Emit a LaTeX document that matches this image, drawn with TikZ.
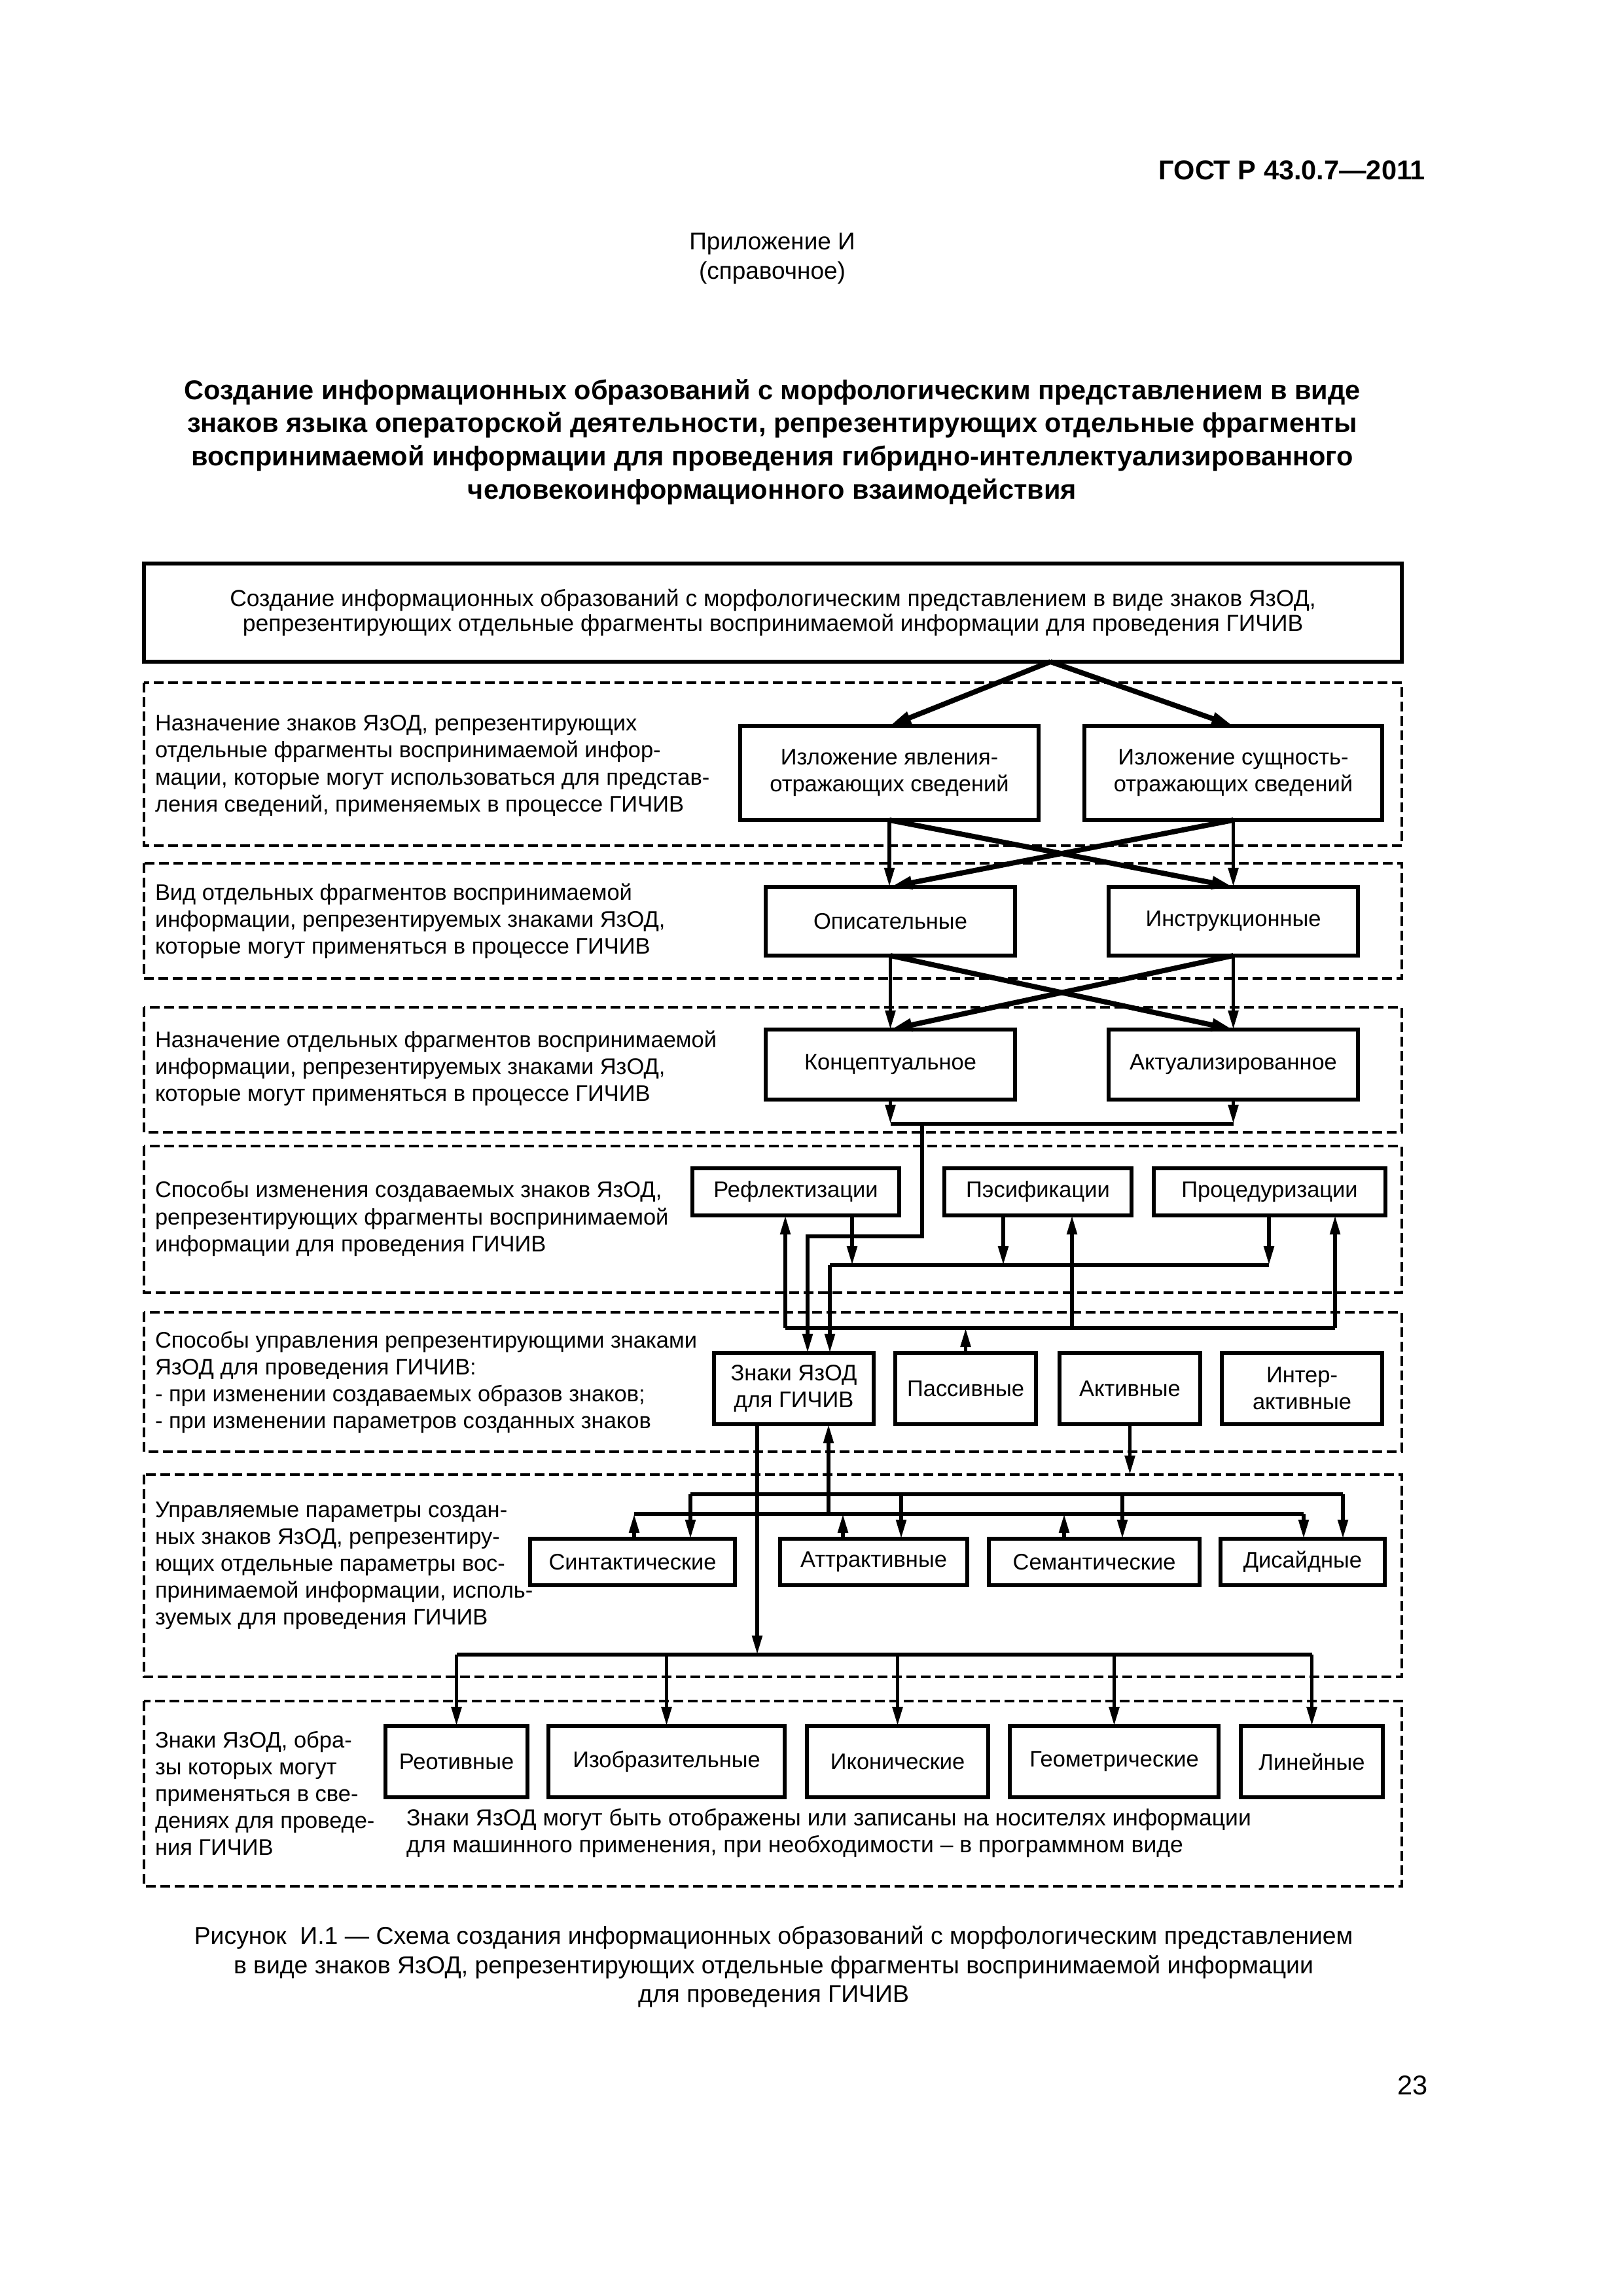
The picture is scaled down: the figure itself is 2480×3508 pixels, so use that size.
\documentclass[tikz,border=0pt]{standalone}
\usepackage{fontspec}
\setmainfont{Liberation Sans}
\usetikzlibrary{arrows.meta}
\newcommand\pxu{0.0846774mm}
\newcommand\bx[6]{\node[box, minimum width={(#4-#2)*\pxu}, minimum height={(#5-#3)*\pxu}] (#1) at ({(#2+#4)/2},{(#3+#5)/2}) {#6};}
\begin{document}
\begin{tikzpicture}[x=0.0846774mm, y=-0.0846774mm,
  every node/.style={inner sep=0pt, outer sep=0pt},
  dfont/.style={font=\fontsize{8.3}{9.9}\selectfont},
  box/.style={draw, line width=1.45pt, align=center, dfont},
  band/.style={draw, line width=0.9pt, dash pattern=on 3.6pt off 1.7pt},
  ln/.style={line width=1.3pt},
  arr/.style={ln, -{Triangle[length=7pt,width=3.6pt]}},
  diag/.style={line width=1.9pt, -{Triangle[length=8pt,width=4.4pt]}},
  bus/.style={line width=1.4pt},
  lbl/.style={dfont, align=left, anchor=west},
]
\useasboundingbox (0,0) rectangle (2480,3508);
\fill[white] (0,0) rectangle (2480,3508);

% page header
\node[anchor=east, font=\fontsize{10}{12}\selectfont\bfseries] (hdr) at (2178,260) {ГОСТ Р 43.0.7—2011};
\node[align=center, font=\fontsize{8.9}{10.8}\selectfont] (app) at (1180,395) {Приложение И\\(справочное)};
\node[align=center, font=\fontsize{10}{12.2}\selectfont\bfseries] (title) at (1180,675)
 {Создание информационных образований с морфологическим представлением в виде\\
  знаков языка операторской деятельности, репрезентирующих отдельные фрагменты\\
  воспринимаемой информации для проведения гибридно-интеллектуализированного\\
  человекоинформационного взаимодействия};

% bands
\draw[band] (220,1043) rectangle (2142,1292);
\draw[band] (220,1319) rectangle (2142,1495);
\draw[band] (220,1539) rectangle (2142,1730);
\draw[band] (220,1751) rectangle (2142,1975);
\draw[band] (220,2005) rectangle (2142,2218);
\draw[band] (220,2253) rectangle (2142,2562);
\draw[band] (220,2599) rectangle (2142,2882);

% top box
\node[draw, line width=1.6pt, align=center, font=\fontsize{8.55}{9.3}\selectfont,
  minimum width={1922*\pxu}, minimum height={150*\pxu}] (top) at (1181,936)
 {Создание информационных образований с морфологическим представлением в виде знаков ЯзОД,\\
  репрезентирующих отдельные фрагменты воспринимаемой информации для проведения ГИЧИВ};

% boxes
\bx{b1}{1131}{1109}{1587}{1253}{Изложение явления-\\отражающих сведений}
\bx{b2}{1657}{1109}{2112}{1253}{Изложение сущность-\\отражающих сведений}
\bx{opis}{1170}{1355}{1551}{1460}{Описательные}
\bx{instr}{1694}{1355}{2075}{1460}{Инструкционные}
\bx{konc}{1170}{1573}{1551}{1680}{Концептуальное}
\bx{akt}{1694}{1573}{2075}{1680}{Актуализированное}
\bx{refl}{1058}{1785}{1374}{1857}{Рефлектизации}
\bx{pes}{1443}{1785}{1729}{1857}{Пэсификации}
\bx{proc}{1763}{1785}{2117}{1857}{Процедуризации}
\bx{znaki}{1091}{2067}{1335}{2176}{Знаки ЯзОД\\для ГИЧИВ}
\bx{pass}{1368}{2067}{1583}{2176}{Пассивные}
\bx{aktv}{1619}{2067}{1834}{2176}{Активные}
\bx{inter}{1867}{2067}{2112}{2176}{Интер-\\активные}
\bx{sint}{810}{2351}{1123}{2422}{Синтактические}
\bx{attr}{1192}{2351}{1478}{2422}{Аттрактивные}
\bx{sem}{1511}{2351}{1833}{2422}{Семантические}
\bx{dis}{1865}{2351}{2116}{2422}{Дисайдные}
\bx{reo}{589}{2637}{806}{2746}{Реотивные}
\bx{izo}{838}{2637}{1199}{2746}{Изобразительные}
\bx{ikon}{1233}{2637}{1510}{2746}{Иконические}
\bx{geom}{1543}{2637}{1862}{2746}{Геометрические}
\bx{lin}{1896}{2637}{2113}{2746}{Линейные}

% left labels
\node[lbl] (t1) at (237,1170) {Назначение знаков ЯзОД, репрезентирующих\\отдельные фрагменты воспринимаемой инфор-\\мации, которые могут использоваться для представ-\\ления сведений, применяемых в процессе ГИЧИВ};
\node[lbl] (t2) at (237,1407) {Вид отдельных фрагментов воспринимаемой\\информации, репрезентируемых знаками ЯзОД,\\которые могут применяться в процессе ГИЧИВ};
\node[lbl] (t3) at (237,1632) {Назначение отдельных фрагментов воспринимаемой\\информации, репрезентируемых знаками ЯзОД,\\которые могут применяться в процессе ГИЧИВ};
\node[lbl] (t4) at (237,1862) {Способы изменения создаваемых знаков ЯзОД,\\репрезентирующих фрагменты воспринимаемой\\информации для проведения ГИЧИВ};
\node[lbl] (t5) at (237,2112) {Способы управления репрезентирующими знаками\\ЯзОД для проведения ГИЧИВ:\\- при изменении создаваемых образов знаков;\\- при изменении параметров созданных знаков};
\node[lbl] (t6) at (237,2392) {Управляемые параметры создан-\\ных знаков ЯзОД, репрезентиру-\\ющих отдельные параметры вос-\\принимаемой информации, исполь-\\зуемых для проведения ГИЧИВ};
\node[lbl] (t7) at (237,2740) {Знаки ЯзОД, обра-\\зы которых могут\\применяться в све-\\дениях для проведе-\\ния ГИЧИВ};
\node[lbl, font=\fontsize{8.55}{9.9}\selectfont] (t8) at (621,2801) {Знаки ЯзОД могут быть отображены или записаны на носителях информации\\для машинного применения, при необходимости – в программном виде};

% connectors: top -> band 1
\coordinate (ts) at (1605,1011);
\draw[diag] (ts) -- (b1.north);
\draw[diag] (ts) -- (b2.north);
% band 1 -> band 2
\draw[arr] (b1.south) -- (b1.south |- opis.north);
\draw[arr] (b2.south) -- (b2.south |- instr.north);
\draw[diag] (b1.south) -- (instr.north);
\draw[diag] (b2.south) -- (opis.north);
% band 2 -> band 3
\draw[arr] (opis.south) -- (konc.north);
\draw[arr] (instr.south) -- (akt.north);
\draw[diag] (opis.south) -- (akt.north);
\draw[diag] (instr.south) -- (konc.north);
% band 3 collector
\draw[arr] (konc.south) -- (konc.south |- 0,1717);
\draw[arr] (akt.south) -- (akt.south |- 0,1717);
\draw[bus] (konc.south |- 0,1717) -- (akt.south |- 0,1717);
\draw[arr, line join=miter] (1409,1717) |- (1234,1889) -- (1234,0 |- znaki.north);
% band 4 upper collector
\draw[arr] (1302,0 |- refl.south) -- (1302,1933);
\draw[arr] (1533,0 |- pes.south) -- (1533,1933);
\draw[arr] (1939,0 |- proc.south) -- (1939,1933);
\draw[bus] (1268,1933) -- (1939,1933);
\draw[arr] (1268,1933) -- (1268,0 |- znaki.north);
% band 4 lower distributor
\draw[bus] (1200,2029) -- (2040,2029);
\draw[arr] (1200,2029) -- (1200,0 |- refl.south);
\draw[arr] (1638,2029) -- (1638,0 |- pes.south);
\draw[arr] (2040,2029) -- (2040,0 |- proc.south);
\draw[arr] (pass.north) -- (pass.north |- 0,2029);
% band 5 -> band 6
\draw[arr] (aktv.south) -- (aktv.south |- 0,2253);
\draw[bus] (1055,2283) -- (2052,2283);
\draw[arr] (1055,2283) -- (1055,0 |- sint.north);
\draw[arr] (1377,2283) -- (1377,0 |- attr.north);
\draw[arr] (1715,2283) -- (1715,0 |- sem.north);
\draw[arr] (2052,2283) -- (2052,0 |- dis.north);
\draw[bus] (969,2313) -- (1992,2313);
\draw[arr] (969,0 |- sint.north) -- (969,2313);
\draw[arr] (1288,0 |- attr.north) -- (1288,2313);
\draw[arr] (1626,0 |- sem.north) -- (1626,2313);
\draw[arr] (1992,2313) -- (1992,0 |- dis.north);
\draw[arr] (1266,2313) -- (1266,0 |- znaki.south);
% znaki -> band 7
\draw[arr] (1157,0 |- znaki.south) -- (1157,2528);
\draw[bus] (reo.north |- 0,2528) -- (lin.north |- 0,2528);
\draw[arr] (reo.north |- 0,2528) -- (reo.north);
\draw[arr] (izo.north |- 0,2528) -- (izo.north);
\draw[arr] (ikon.north |- 0,2528) -- (ikon.north);
\draw[arr] (geom.north |- 0,2528) -- (geom.north);
\draw[arr] (lin.north |- 0,2528) -- (lin.north);

% caption and page number
\node[align=center, font=\fontsize{9}{10.8}\selectfont] (cap) at (1182,3005)
 {Рисунок \ И.1 — Схема создания информационных образований с морфологическим представлением\\
  в виде знаков ЯзОД, репрезентирующих отдельные фрагменты воспринимаемой информации\\
  для проведения ГИЧИВ};
\node[anchor=east, font=\fontsize{10}{12}\selectfont] (pnum) at (2182,3186) {23};
\end{tikzpicture}
\end{document}
